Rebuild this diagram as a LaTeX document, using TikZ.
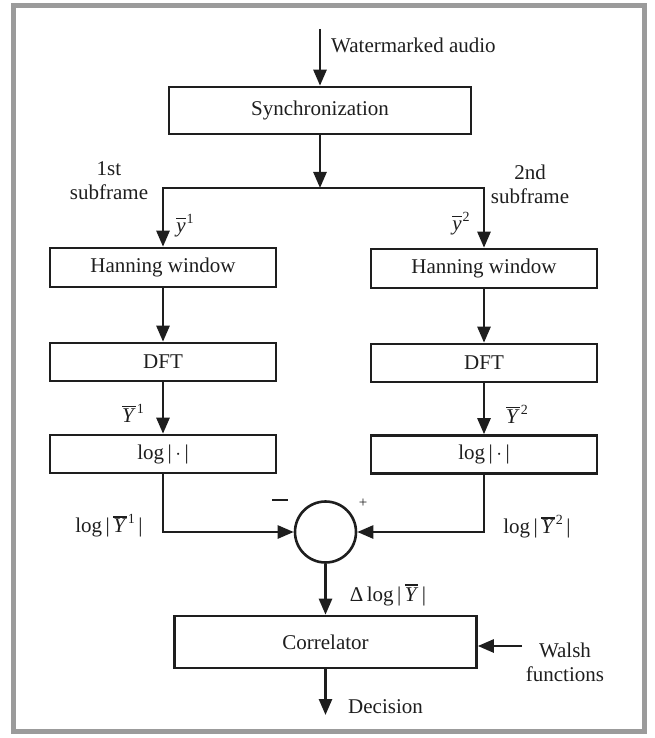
\documentclass[tikz,border=0pt]{standalone}
\usepackage{fontspec}
\setmainfont{Liberation Serif}
\usetikzlibrary{arrows.meta}
\definecolor{framegray}{HTML}{9B9B9B}
\definecolor{ink}{HTML}{1E1E1E}
\newcommand\barred[2]{\vbox{\hrule height 1.2pt\kern #2\hbox{\itshape #1\/}}}
\newcommand\supnum[1]{\kern1pt\raise 9pt\hbox{\fontsize{14}{14}\selectfont #1}}
\newcommand\ybarsup[1]{\barred{y}{4.5pt}\supnum{#1}}
\newcommand\Ybarsup[1]{\barred{Y}{1.6pt}\supnum{#1}}
\newcommand\Ybarplain{\barred{Y}{1.6pt}}
\begin{document}
\begin{tikzpicture}[x=1pt,y=-1pt,
  every node/.style={font=\fontsize{21}{24}\selectfont, text=ink},
  blockbox/.style={draw=ink, line width=2.6pt, rectangle, inner sep=0pt, fill=white},
  conn/.style={draw=ink, line width=2.6pt},
  arr/.style={conn, -{Triangle[length=16pt,width=13pt]}},
  lbl/.style={inner sep=0pt}
]
\useasboundingbox (0,0) rectangle (654,738);
\draw[framegray, line width=5pt] (13.5,5.5) rectangle (644.5,731);

% blocks
\node[blockbox, minimum width=302pt, minimum height=47pt] (sync) at (320,110.5) {Synchronization};
\node[blockbox, minimum width=226pt, minimum height=39pt] (hw1) at (163,267.5) {Hanning window};
\node[blockbox, minimum width=226pt, minimum height=39pt] (hw2) at (484,268.5) {Hanning window};
\node[blockbox, minimum width=226pt, minimum height=38pt] (dft1) at (163,362) {DFT};
\node[blockbox, minimum width=226pt, minimum height=38pt] (dft2) at (484,363) {DFT};
\node[blockbox, minimum width=226pt, minimum height=38pt] (log1) at (163,454) {log\,|\,$\cdot$\,|};
\node[blockbox, minimum width=226pt, minimum height=38pt] (log2) at (484,454.5) {log\,|\,$\cdot$\,|};
\node[draw=ink, line width=2.6pt, circle, minimum size=61pt, inner sep=0pt] (sum) at (325.5,532) {};
\node[blockbox, minimum width=302pt, minimum height=52pt] (corr) at (325.5,642) {Correlator};

% free ends
\coordinate (in) at (320,29);
\coordinate (split) at (320,188);
\coordinate (dec) at (325.5,715);
\coordinate (walsh) at (522,646);

% connectors
\draw[arr] (in) -- (sync.north);
\draw[arr] (sync.south) -- (split);
\draw[arr] (split) -| (hw1.north);
\draw[arr] (split) -| (hw2.north);
\draw[arr] (hw1.south) -- (dft1.north);
\draw[arr] (hw2.south) -- (dft2.north);
\draw[arr] (dft1.south) -- (log1.north);
\draw[arr] (dft2.south) -- (log2.north);
\draw[arr] (log1.south) |- (sum.west);
\draw[arr] (log2.south) |- (sum.east);
\draw[arr] (sum.south) -- (corr.north);
\draw[arr] (corr.south) -- (dec);
\draw[arr] (walsh) -- (corr.east |- walsh);

% labels
\node[lbl, anchor=west] (lwm) at (331,45) {Watermarked audio};
\node[lbl, align=center] (lsub1) at (109,181) {1st\\subframe};
\node[lbl, align=center] (lsub2) at (530,184) {2nd\\subframe};
\node[lbl] (ly1) at (185,226) {\ybarsup{1}};
\node[lbl] (ly2) at (461,224) {\ybarsup{2}};
\node[lbl] (lY1) at (133,413) {\Ybarsup{1}};
\node[lbl] (lY2) at (517,414) {\Ybarsup{2}};
\node[lbl] (llog1) at (109,526) {log\,|\,\Ybarsup{1}\,|};
\node[lbl] (llog2) at (537,527) {log\,|\,\Ybarsup{2}\,|};
\node[lbl] (lminus) at (280,500) {\rule{16pt}{2.2pt}};
\node[lbl, font=\fontsize{15}{15}\selectfont] (lplus) at (363,503) {+};
\node[lbl] (ldelta) at (388,595) {Δ\,log\,|\,\Ybarplain\,|};
\node[lbl, align=center] (lwalsh) at (565,662) {Walsh\\functions};
\node[lbl, anchor=west] (ldec) at (348,707) {Decision};
\end{tikzpicture}
\end{document}
